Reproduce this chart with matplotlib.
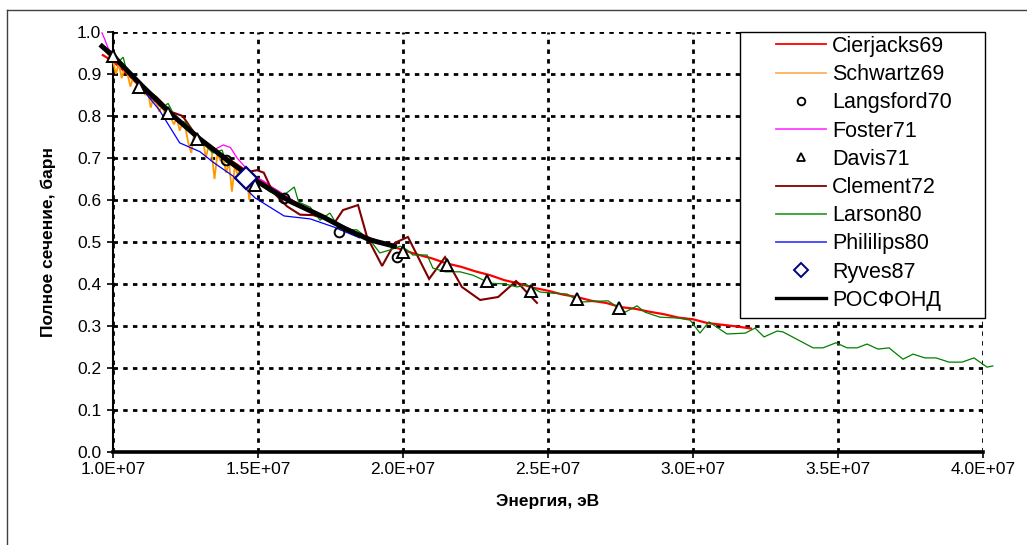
import numpy as np
import matplotlib
matplotlib.use("Agg")
import matplotlib.pyplot as plt
from matplotlib.lines import Line2D
from matplotlib.patches import Rectangle
from matplotlib.ticker import MultipleLocator, FuncFormatter

plt.rcParams['font.family'] = ['Liberation Sans', 'DejaVu Sans']

MEV = 1e6  # energies below are written in MeV

# Cierjacks69
cierjacks_e = [9.65, 10.0, 10.3, 10.6, 10.9, 11.2, 11.5, 11.8, 12.1, 12.4, 12.7, 13.0, 13.3, 13.6, 13.9,
               14.2, 14.5, 14.8, 15.1, 15.4, 15.7, 16.0, 16.4, 16.8, 17.2, 17.6, 18.0, 18.4, 18.8, 19.2,
               19.6, 20.0, 20.5, 21.0, 21.5, 22.0, 22.5, 23.0, 23.5, 24.0, 24.5, 25.0, 25.5, 26.0, 26.5,
               27.0, 27.5, 28.0, 28.5, 29.0, 29.5, 30.0, 30.5, 31.0, 31.5, 32.0]
cierjacks_s = [0.945, 0.93, 0.912, 0.893, 0.872, 0.85, 0.832, 0.813, 0.797, 0.78, 0.763, 0.746, 0.732, 0.716, 0.701,
               0.688, 0.674, 0.66, 0.646, 0.632, 0.62, 0.606, 0.59, 0.575, 0.561, 0.546, 0.535, 0.521, 0.511, 0.5,
               0.49, 0.481, 0.47, 0.461, 0.449, 0.441, 0.43, 0.421, 0.409, 0.401, 0.391, 0.384, 0.375, 0.369, 0.36,
               0.355, 0.345, 0.341, 0.334, 0.328, 0.32, 0.316, 0.307, 0.303, 0.299, 0.294]

# Schwartz69
schwartz_e = [9.8, 10.0, 10.1, 10.2, 10.3, 10.4, 10.5, 10.6, 10.7, 10.8, 10.9, 11.0, 11.1, 11.2, 11.3,
              11.4, 11.5, 11.6, 11.7, 11.8, 11.9, 12.0, 12.1, 12.2, 12.3, 12.4, 12.5, 12.6, 12.7, 12.8,
              12.9, 13.0, 13.1, 13.2, 13.3, 13.4, 13.5, 13.6, 13.7, 13.8, 13.9, 14.0, 14.1, 14.2, 14.3,
              14.4, 14.5, 14.6, 14.7, 14.8, 14.9, 15.0]
schwartz_s = [0.95, 0.93, 0.90, 0.925, 0.89, 0.915, 0.90, 0.87, 0.895, 0.88, 0.86, 0.875, 0.85, 0.86, 0.82,
              0.845, 0.83, 0.81, 0.83, 0.80, 0.81, 0.795, 0.78, 0.795, 0.765, 0.785, 0.77, 0.735, 0.712, 0.76,
              0.745, 0.73, 0.745, 0.70, 0.73, 0.715, 0.65, 0.71, 0.695, 0.70, 0.665, 0.69, 0.62, 0.68, 0.66,
              0.675, 0.63, 0.665, 0.60, 0.655, 0.62, 0.645]

# Langsford70
langsford_e = [13.9, 15.9, 17.8, 19.8]
langsford_s = [0.695, 0.605, 0.524, 0.464]

# Foster71
foster_e = [9.62, 9.7, 9.83, 10.0, 10.3, 10.6, 10.9, 11.17, 11.4, 11.7, 12.0, 12.3, 12.6, 12.9, 13.2,
            13.5, 13.8, 14.05, 14.28, 14.6, 14.9, 15.2, 15.5, 16.0, 16.5]
foster_s = [0.998, 0.985, 0.962, 0.945, 0.92, 0.895, 0.875, 0.865, 0.845, 0.82, 0.80, 0.785, 0.765, 0.745, 0.73,
            0.72, 0.731, 0.725, 0.70, 0.675, 0.655, 0.645, 0.63, 0.608, 0.585]

# Davis71
davis_e = [10.0, 10.9, 11.9, 12.9, 14.9, 20.0, 21.5, 22.9, 24.4, 26.0, 27.45]
davis_s = [0.943, 0.869, 0.807, 0.745, 0.636, 0.476, 0.445, 0.407, 0.384, 0.364, 0.343]

# Clement72
clement_e = [9.7, 10.0, 10.5, 11.0, 11.5, 12.0, 12.4, 12.8, 13.2, 13.6, 14.0, 14.5, 14.97, 15.2, 15.5,
             16.0, 16.45, 16.9, 17.66, 17.93, 18.45, 18.76, 19.28, 19.72, 20.17, 20.9, 21.45, 22.03, 22.66, 23.28,
             23.9, 24.62]
clement_s = [0.96, 0.95, 0.91, 0.87, 0.845, 0.81, 0.80, 0.76, 0.735, 0.71, 0.69, 0.665, 0.671, 0.665, 0.62,
             0.585, 0.565, 0.564, 0.548, 0.576, 0.588, 0.512, 0.443, 0.498, 0.512, 0.412, 0.464, 0.393, 0.362, 0.369,
             0.407, 0.355]

# Larson80
larson_e = [9.8, 10.0, 10.2, 10.35, 10.5, 10.8, 11.1, 11.4, 11.7, 11.9, 12.2, 12.5, 12.8, 13.1, 13.45,
            13.76, 13.9, 14.2, 14.5, 14.8, 15.1, 15.4, 15.76, 16.05, 16.25, 16.4, 16.8, 17.14, 17.48, 17.83,
            18.41, 18.86, 19.2, 19.55, 19.9, 20.14, 20.34, 20.83, 21.03, 21.45, 21.97, 22.41, 23.0, 23.52, 23.93,
            24.28, 24.72, 25.17, 25.66, 26.1, 27.07, 27.66, 28.07, 28.34, 28.86, 29.48, 29.9, 30.24, 30.55, 31.17,
            31.8, 32.14, 32.45, 32.9, 33.1, 34.14, 34.48, 34.93, 35.31, 35.66, 36.0, 36.38, 36.76, 37.24, 37.59,
            38.0, 38.38, 38.83, 39.28, 39.69, 40.14, 40.34]
larson_s = [0.955, 0.94, 0.93, 0.94, 0.90, 0.89, 0.86, 0.85, 0.82, 0.83, 0.79, 0.785, 0.76, 0.735, 0.712,
            0.719, 0.69, 0.68, 0.665, 0.645, 0.635, 0.62, 0.607, 0.62, 0.631, 0.595, 0.583, 0.552, 0.569, 0.529,
            0.529, 0.505, 0.474, 0.481, 0.49, 0.481, 0.469, 0.469, 0.438, 0.429, 0.429, 0.421, 0.402, 0.40, 0.393,
            0.398, 0.381, 0.378, 0.376, 0.357, 0.36, 0.333, 0.348, 0.333, 0.321, 0.319, 0.314, 0.283, 0.31, 0.281,
            0.283, 0.295, 0.274, 0.288, 0.286, 0.248, 0.248, 0.26, 0.248, 0.248, 0.257, 0.245, 0.248, 0.221, 0.233,
            0.224, 0.224, 0.214, 0.214, 0.224, 0.202, 0.205]

# Phililips80
phil_e = [9.7, 10.0, 10.5, 11.0, 11.6, 12.3, 13.0, 13.45, 14.14, 14.9, 15.9, 16.8, 17.6, 18.5]
phil_s = [0.965, 0.945, 0.905, 0.865, 0.814, 0.736, 0.715, 0.69, 0.657, 0.605, 0.562, 0.555, 0.536, 0.51]

# Ryves87
ryves_e = [14.6]
ryves_s = [0.652]

# РОСФОНД evaluation
rosfond_e = [9.62, 10.0, 11.0, 12.0, 13.0, 14.0, 15.0, 16.1, 17.24, 18.0, 18.86, 19.7]
rosfond_s = [0.966, 0.943, 0.872, 0.805, 0.745, 0.692, 0.643, 0.597, 0.56, 0.532, 0.505, 0.49]

labels = ["Cierjacks69", "Schwartz69", "Langsford70", "Foster71", "Davis71",
          "Clement72", "Larson80", "Phililips80", "Ryves87", "РОСФОНД"]

W, H = 1027, 545
fig = plt.figure(figsize=(W / 100, H / 100), dpi=100)
ax = fig.add_axes([113 / W, 1 - 452 / H, (983 - 113) / W, (452 - 32) / H])


def mev(vals):
    return np.asarray(vals) * MEV


line_kw = dict(clip_on=False, solid_joinstyle='miter')
ax.plot(mev(cierjacks_e), cierjacks_s, color='#ff0000', lw=1.6, zorder=3, **line_kw)
ax.plot(mev(schwartz_e), schwartz_s, color='#ff9900', lw=1.3, zorder=3, **line_kw)
ax.plot(mev(foster_e), foster_s, color='#ff00ff', lw=0.9, zorder=3, **line_kw)
ax.plot(mev(clement_e), clement_s, color='#800000', lw=1.5, zorder=3, **line_kw)
ax.plot(mev(larson_e), larson_s, color='#008000', lw=0.9, zorder=3, **line_kw)
ax.plot(mev(phil_e), phil_s, color='#0000ff', lw=0.9, zorder=3, **line_kw)
ax.plot(mev(rosfond_e), rosfond_s, color='black', lw=3.6, zorder=4, **line_kw)
ax.plot(mev(langsford_e), langsford_s, ls='none', marker='o', ms=7, mfc='none', mec='black', mew=1.4,
        zorder=5, clip_on=False)
ax.plot(mev(davis_e), davis_s, ls='none', marker='^', ms=8.5, mfc='white', mec='black', mew=1.4,
        zorder=5, clip_on=False)
ax.plot(mev(ryves_e), ryves_s, ls='none', marker='D', ms=11, mfc='white', mec='#000080', mew=1.6,
        zorder=5, clip_on=False)

ax.set_xlim(1.0e7, 4.0e7)
ax.set_ylim(0.0, 1.0)
ax.xaxis.set_major_locator(MultipleLocator(5e6))
ax.yaxis.set_major_locator(MultipleLocator(0.1))
ax.xaxis.set_major_formatter(FuncFormatter(lambda v, _: f"{v:.1E}"))
ax.yaxis.set_major_formatter(FuncFormatter(lambda v, _: f"{v:.1f}"))

ax.set_axisbelow(True)
ax.grid(True, color='black', linestyle=(0, (1.6, 1.9)), linewidth=2.0)
for side in ('top', 'right'):
    ax.spines[side].set_visible(False)
ax.spines['left'].set_linewidth(1.5)
ax.spines['bottom'].set_linewidth(2.6)
ax.tick_params(axis='both', direction='out', length=4.5, width=1.2, labelsize=12.5, color='black')
ax.tick_params(axis='y', pad=4)
ax.tick_params(axis='x', pad=3)

ax.set_xlabel("Энергия, эВ", fontsize=12.5, fontweight='bold', labelpad=12)
ax.set_ylabel("Полное сечение, барн", fontsize=12.5, fontweight='bold', labelpad=15)

# outer chart frame (top and left edges)
fig.add_artist(Line2D([7 / W, 1.0], [1 - 10 / H, 1 - 10 / H], transform=fig.transFigure,
                      color='#404040', lw=1.0))
fig.add_artist(Line2D([7 / W, 7 / W], [0.0, 1 - 10 / H], transform=fig.transFigure,
                      color='#404040', lw=1.0))

# legend box
fig.add_artist(Rectangle((740 / W, 1 - 318 / H), 245 / W, 286 / H, transform=fig.transFigure,
                         facecolor='white', edgecolor='black', lw=1.0, zorder=10))

handles = [
    Line2D([], [], color='#ff0000', lw=1.3),
    Line2D([], [], color='#ffb060', lw=1.3),
    Line2D([], [], ls='none', marker='o', ms=5.5, mfc='none', mec='black', mew=1.3),
    Line2D([], [], color='#ff40ff', lw=1.3),
    Line2D([], [], ls='none', marker='^', ms=6, mfc='none', mec='black', mew=1.3),
    Line2D([], [], color='#800000', lw=1.3),
    Line2D([], [], color='#30a030', lw=1.3),
    Line2D([], [], color='#4040ff', lw=1.3),
    Line2D([], [], ls='none', marker='D', ms=7, mfc='none', mec='#000080', mew=1.4),
    Line2D([], [], color='black', lw=2.4),
]
leg = fig.legend(handles, labels, loc='upper left', bbox_to_anchor=(776 / W, 1 - 36 / H),
                 bbox_transform=fig.transFigure, frameon=False, borderpad=0, borderaxespad=0,
                 fontsize=15.5, handlelength=2.3, handletextpad=0.3, labelspacing=0.335)
leg.set_zorder(11)

fig.savefig("out.png", dpi=100)
